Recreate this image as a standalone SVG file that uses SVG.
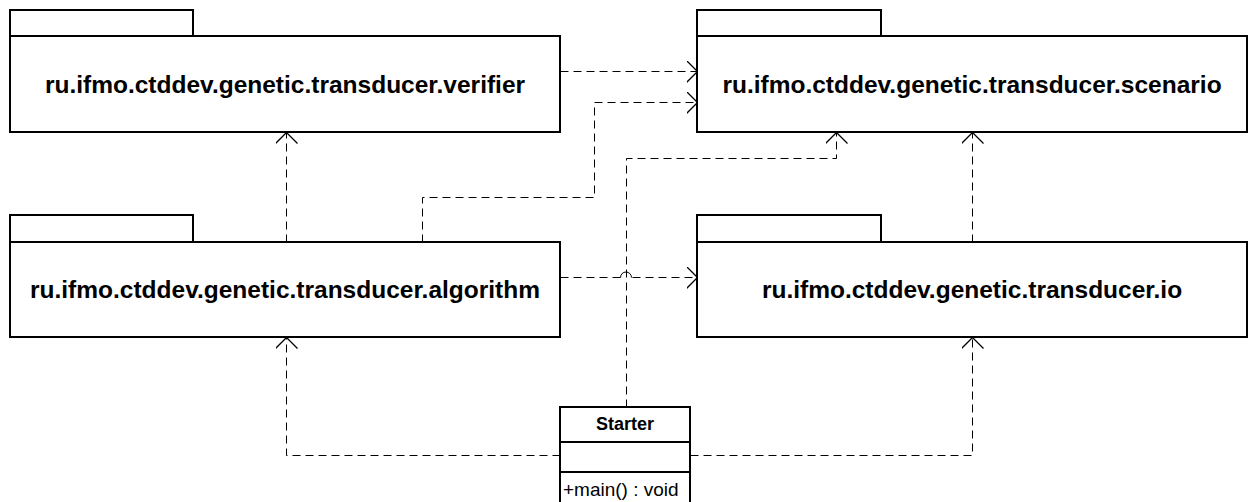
<svg xmlns="http://www.w3.org/2000/svg" width="1253" height="502" viewBox="0 0 1253 502">
  <style>
    .box { fill: #ffffff; stroke: #000000; stroke-width: 2; }
    .pkg { font-family: "Liberation Sans", Arial, sans-serif; font-weight: bold; font-size: 24.5px; fill: #000000; text-anchor: middle; }
    .dep { fill: none; stroke: #000000; stroke-width: 1; stroke-dasharray: 8 5; }
    .hop { fill: none; stroke: #000000; stroke-width: 1; }
    .cls-name { font-family: "Liberation Sans", Arial, sans-serif; font-weight: bold; font-size: 18px; fill: #000000; text-anchor: middle; }
    .cls-op { font-family: "Liberation Sans", Arial, sans-serif; font-size: 19px; fill: #000000; }
  </style>
  <defs>
    <marker id="open" viewBox="0 0 12 22" refX="11" refY="11" markerWidth="12" markerHeight="22" markerUnits="userSpaceOnUse" orient="auto">
      <path d="M0,0 L11,11 L0,22" fill="none" stroke="#000000" stroke-width="1.3"/>
    </marker>
  </defs>
  <rect width="1253" height="502" fill="#ffffff"/>

  <!-- half-pixel offset keeps the 1px dashed lines crisp -->
  <g id="connectors" transform="translate(0.5,0.5)">
    <!-- verifier -> scenario -->
    <path class="dep" d="M560,71 H697" marker-end="url(#open)"/>
    <!-- algorithm -> scenario -->
    <path class="dep" d="M422,242 V197 H594 V102 H697" marker-end="url(#open)"/>
    <!-- algorithm -> verifier -->
    <path class="dep" d="M286,242 V132" marker-end="url(#open)"/>
    <!-- io -> scenario -->
    <path class="dep" d="M972,242 V132" marker-end="url(#open)"/>
    <!-- algorithm -> io, with a line jump over the Starter line -->
    <path class="dep" d="M560,277 H620"/>
    <path class="hop" d="M620,277 A5,5 0 0 1 631,277"/>
    <path class="dep" d="M632,277 H697" marker-end="url(#open)"/>
    <!-- Starter -> scenario -->
    <path class="dep" d="M626,407 V158 H836 V132" marker-end="url(#open)"/>
    <!-- Starter -> algorithm -->
    <path class="dep" d="M560,455 H286 V337" marker-end="url(#open)"/>
    <!-- Starter -> io -->
    <path class="dep" d="M690,455 H972 V337" marker-end="url(#open)"/>
  </g>

  <g id="pkg-verifier">
    <rect class="box" x="10" y="10" width="183" height="26"/>
    <rect class="box" x="10" y="36" width="550" height="96"/>
    <text class="pkg" x="285" y="93">ru.ifmo.ctddev.genetic.transducer.verifier</text>
  </g>

  <g id="pkg-scenario">
    <rect class="box" x="697" y="10" width="184" height="26"/>
    <rect class="box" x="697" y="36" width="550" height="96"/>
    <text class="pkg" x="972" y="93">ru.ifmo.ctddev.genetic.transducer.scenario</text>
  </g>

  <g id="pkg-algorithm">
    <rect class="box" x="10" y="215" width="183" height="27"/>
    <rect class="box" x="10" y="242" width="550" height="95"/>
    <text class="pkg" x="285" y="298">ru.ifmo.ctddev.genetic.transducer.algorithm</text>
  </g>

  <g id="pkg-io">
    <rect class="box" x="697" y="215" width="184" height="27"/>
    <rect class="box" x="697" y="242" width="550" height="95"/>
    <text class="pkg" x="972" y="298">ru.ifmo.ctddev.genetic.transducer.io</text>
  </g>

  <g id="cls-starter">
    <rect class="box" x="560" y="407" width="130" height="35"/>
    <rect class="box" x="560" y="442" width="130" height="30"/>
    <rect class="box" x="560" y="472" width="130" height="32"/>
    <text class="cls-name" x="625" y="430">Starter</text>
    <text class="cls-op" x="563" y="496">+main() : void</text>
  </g>
</svg>
